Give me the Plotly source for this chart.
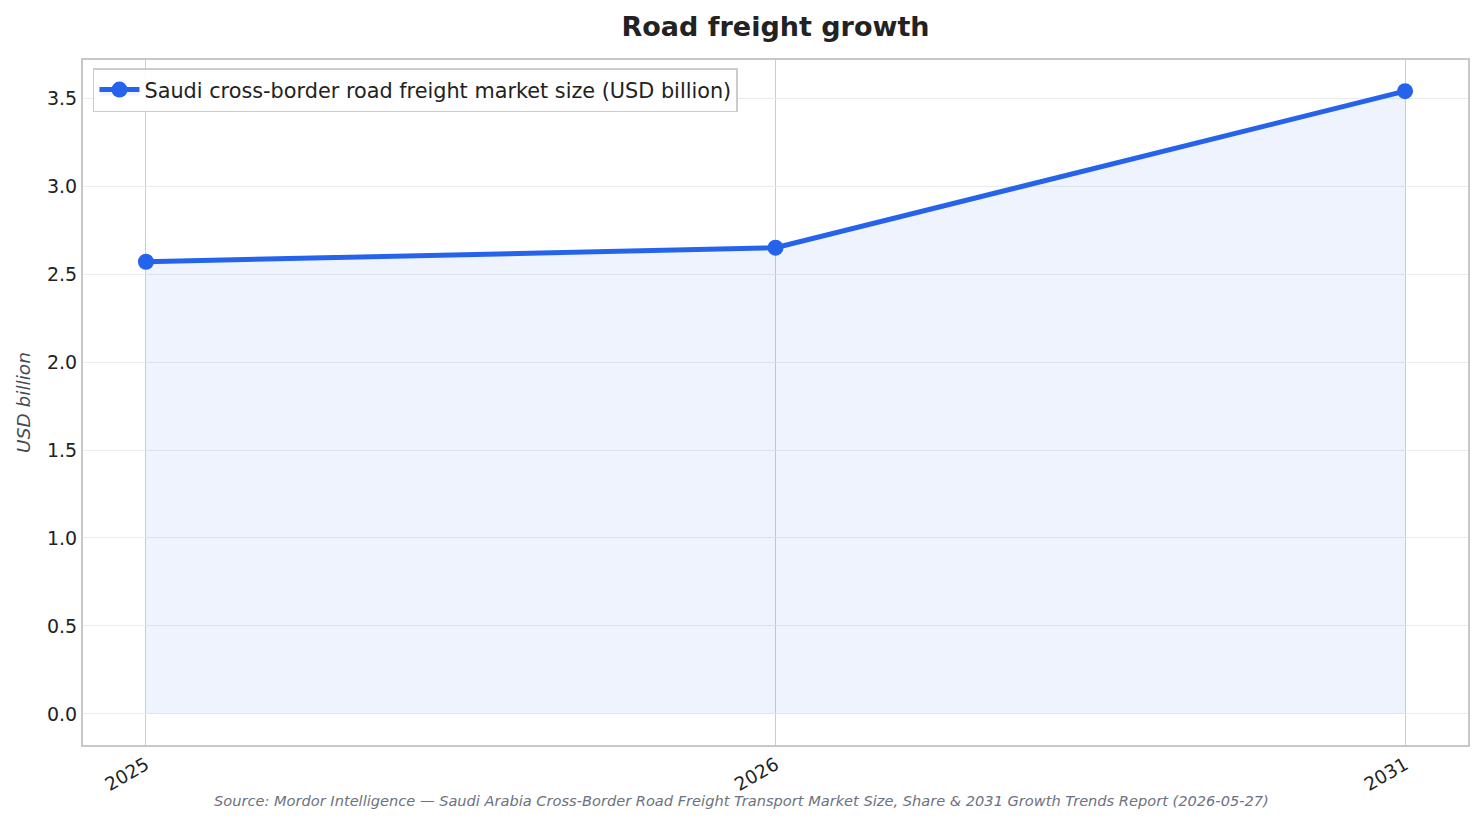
import plotly.graph_objects as go

# Data
years = ["2025", "2026", "2031"]
market_size = [2.57, 2.65, 3.54]
y_ticks = [0.0, 0.5, 1.0, 1.5, 2.0, 2.5, 3.0, 3.5]

series_name = "Saudi cross-border road freight market size (USD billion)"
source_text = ("Source: Mordor Intelligence \u2014 Saudi Arabia Cross-Border Road Freight Transport "
               "Market Size, Share & 2031 Growth Trends Report (2026-05-27)")

blue = "#2563EB"
font_family = "DejaVu Sans, Verdana, sans-serif"

# page body has an 8px margin, so the figure is a bit smaller than the window
fig = go.Figure()

# Area + line
fig.add_trace(go.Scatter(
    x=years, y=market_size,
    mode="lines+markers",
    name=series_name,
    line=dict(color=blue, width=5),
    marker=dict(color=blue, size=16),
    fill="tozeroy",
    fillcolor="rgba(37,99,235,0.08)",
    showlegend=True,
))

fig.update_layout(
    width=1468, height=807,
    margin=dict(l=75, r=6, t=52, b=70),
    paper_bgcolor="white",
    plot_bgcolor="white",
    font=dict(family=font_family, color="#222222", size=19),
    title=dict(text="<b>Road freight growth</b>", x=0.5, xref="paper", xanchor="center",
               y=0.9765, yanchor="middle", font=dict(size=27, color="#222222")),
    legend=dict(x=0.0072, y=0.9883, xanchor="left", yanchor="top",
                itemwidth=40,
                bgcolor="rgba(255,255,255,0.9)", bordercolor="#cccccc", borderwidth=1.5,
                font=dict(size=20.8, color="#222222")),
    showlegend=True,
)

fig.update_xaxes(
    type="category",
    range=[-0.1, 2.1],
    tickangle=-30,
    tickfont=dict(size=18.5),
    showgrid=True, gridcolor="#c9ccd8", gridwidth=1,
    showline=True, linecolor="#c8c8c8", linewidth=2, mirror=True,
    ticks="", zeroline=False,
)

fig.update_yaxes(
    range=[-0.177, 3.717],
    tickvals=y_ticks,
    ticktext=[f"{v:.1f}" for v in y_ticks],
    tickfont=dict(size=19),
    showgrid=True, gridcolor="#ebebeb", gridwidth=1,
    showline=True, linecolor="#c8c8c8", linewidth=2, mirror=True,
    ticks="", zeroline=False,
    title=dict(text="<i>USD billion</i>", font=dict(size=18.5, color="#444b55"), standoff=12),
)

fig.add_annotation(
    text=f"<i>{source_text}</i>",
    xref="paper", yref="paper", x=0.4751, y=-0.0803,
    xanchor="center", yanchor="middle", showarrow=False,
    font=dict(size=14.6, color="#6b7280"),
)

fig.write_html("out.html")
